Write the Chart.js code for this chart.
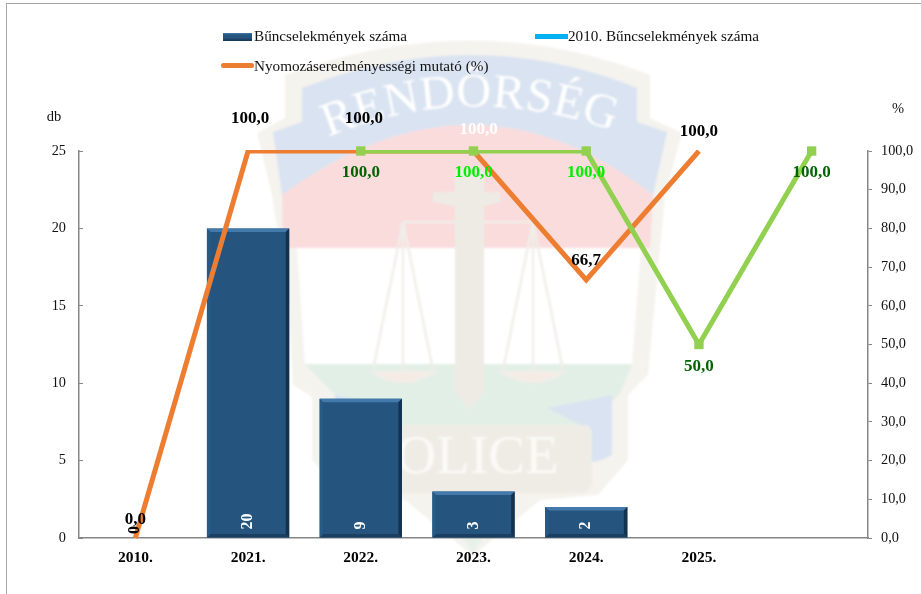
<!DOCTYPE html>
<html lang="hu">
<head>
<meta charset="utf-8">
<title>Bűncselekmények száma</title>
<script src="https://cdn.jsdelivr.net/npm/chart.js@4/dist/chart.umd.min.js"></script>
<style>
  html, body { margin: 0; padding: 0; background: #fff; }
  #wrap { position: relative; width: 921px; height: 594px; overflow: hidden; font-family: "Liberation Serif", serif; }
  #mark, #chart { position: absolute; left: 0; top: 0; }
  .frame-l { position: absolute; left: 6px; top: 3px; width: 1px; height: 591px; background: #a6a6a6; }
  .frame-t { position: absolute; left: 6px; top: 3px; width: 915px; height: 1px; background: #a6a6a6; }
  .leg { position: absolute; font-size: 15.2px; color: #111; white-space: nowrap; line-height: 18px; }
  .key { position: absolute; }
</style>
</head>
<body>
<div id="wrap">
  <svg id="mark" width="921" height="594" viewBox="0 0 921 594">
    <defs>
      <path id="arc" d="M 328 137 Q 473 76 630 137"/>
      <filter id="soft" x="0" y="0" width="100%" height="100%"><feGaussianBlur stdDeviation="1.1"/></filter>
    </defs>
    <g filter="url(#soft)">
      <path d="M 257 133 L 285 118 L 285 75 Q 473 6 650 75 L 650 118 L 682 133 L 665 195 L 655 300 L 648 375 L 628 395 L 628 460 L 598 495 L 540 500 L 473 556 L 405 500 L 345 495 L 312 460 L 312 397 L 293 385 L 288 300 L 272 195 Z" fill="#f5f3ee"/>
      <path d="M 273 132 L 302 122 L 302 88 Q 473 22 637 88 L 637 122 L 667 132 L 653 195 Q 473 55 282 195 Z" fill="#d9e3f1"/>
      <path d="M 282 195 Q 473 55 653 195 L 650 248 L 283 248 Z" fill="#fadcdd"/>
      <path d="M 297 248 L 641 248 L 632 364 L 305 364 Z" fill="#fff"/>
      <path d="M 305 364 L 632 364 L 620 393 L 590 425 L 400 425 L 335 395 Z" fill="#e2efe6"/>
      <path d="M 430 495 L 515 495 L 473 552 Z" fill="#e7f1ea"/>
      <path d="M 547 408 L 612 395 L 612 455 Q 600 462 590 462 L 590 430 Z" fill="#d9e3f1"/>
      <path d="M 400 408 L 335 395 L 335 455 Q 347 462 357 462 L 357 430 Z" fill="#d9e3f1"/>
      <path d="M 350 425 L 585 425 Q 592 425 592 435 L 592 480 Q 592 493 580 493 L 350 493 Z" fill="#efece6"/>
      <g fill="none" stroke="#f0eee8" stroke-width="2.5">
        <path d="M 403 222 L 373 370 M 403 222 L 433 370 M 403 222 L 403 372"/>
        <path d="M 533 222 L 503 370 M 533 222 L 563 370 M 533 222 L 533 372"/>
        <path d="M 403 222 L 533 222"/>
        <path d="M 372 372 Q 403 392 434 372 Z" fill="#f5ebe4"/>
        <path d="M 502 372 Q 533 392 564 372 Z" fill="#f5ebe4"/>
      </g>
      <path d="M 455 192 L 433 192 L 433 202 L 455 206 L 455 392 L 469 410 L 484 392 L 484 206 L 500 202 L 500 192 L 484 192 L 484 170 L 455 170 Z" fill="#eeebe5"/>
      <text font-family="Liberation Serif" font-size="48" fill="#fff" letter-spacing="0.5"><textPath href="#arc" startOffset="0">RENDŐRSÉG</textPath></text>
      <text x="366" y="473" font-family="Liberation Serif" font-size="55" fill="#fbfaf7">POLICE</text>
    </g>
  </svg>
  <canvas id="chart" width="921" height="594"></canvas>
  <div class="frame-l"></div>
  <div class="frame-t"></div>
  <div id="legend"></div>
</div>
<script>
const categories = ["2010.", "2021.", "2022.", "2023.", "2024.", "2025.", ""];
const crimeCounts = [0, 20, 9, 3, 2, 0, null];
const crimeCounts2010 = [null, null, null, null, null, null, null];
const clearanceRate = [0, 100, 100, 100, 66.7, 100, null];
const clearanceRateGreen = [null, null, 100, 100, 100, 50, 100];

const seriesNames = ["Bűncselekmények száma", "2010. Bűncselekmények száma", "Nyomozáseredményességi mutató (%)"];

// label look per point
const countLabelColors = ["#000", "#fff", "#fff", "#fff", "#fff", "#fff", "#fff"];
const rateLabelColors = ["#000", "#000", "#000", "#fff", "#000", "#000", "#000"];
const rateLabelDx = [0, 2, 3, 5, 0, 0, 0];
const rateLabelDy = [-18, -32, -32, -21, -19, -19, 0];
const greenLabelColors = ["", "", "#006400", "#00ee00", "#00ee00", "#006400", "#006400"];

const BLUE = "#25557f";
const ORANGE = "#ed7d31";
const GREEN = "#92d050";
const AXIS = "#868686";
const SERIF = "Liberation Serif";

const fmt = (v) => v.toFixed(1).replace(".", ",");

// bevel on the bars, done right after the bar dataset so lines stay on top
const bevelPlugin = {
  id: "bevel",
  afterDatasetDraw(chart, args) {
    if (args.index !== 0) return;
    const ctx = chart.ctx;
    const b = 3.5;
    args.meta.data.forEach((bar, i) => {
      if (!crimeCounts[i]) return;
      const l = bar.x - bar.width / 2, r = bar.x + bar.width / 2, t = bar.y, f = bar.base;
      const side = (pts, color) => {
        ctx.fillStyle = color;
        ctx.beginPath();
        pts.forEach((p, k) => k ? ctx.lineTo(p[0], p[1]) : ctx.moveTo(p[0], p[1]));
        ctx.closePath();
        ctx.fill();
      };
      side([[l, t], [r, t], [r - b, t + b], [l + b, t + b]], "#447aab");
      side([[r, t], [r, f], [r - b, f - b], [r - b, t + b]], "#14324f");
      side([[l, f], [r, f], [r - b, f - b], [l + b, f - b]], "#1a3f60");
      side([[l, t], [l, f], [l + b, f - b], [l + b, t + b]], "#285a86");
    });
  }
};

const labelPlugin = {
  id: "labels",
  afterDatasetsDraw(chart) {
    const ctx = chart.ctx;
    ctx.save();
    ctx.textBaseline = "middle";
    ctx.textAlign = "center";
    ctx.font = "bold 17px " + SERIF;
    chart.getDatasetMeta(2).data.forEach((pt, i) => {
      if (clearanceRate[i] === null) return;
      ctx.fillStyle = rateLabelColors[i];
      ctx.fillText(fmt(clearanceRate[i]), pt.x + rateLabelDx[i], pt.y + rateLabelDy[i]);
    });
    chart.getDatasetMeta(3).data.forEach((pt, i) => {
      if (clearanceRateGreen[i] === null) return;
      ctx.fillStyle = greenLabelColors[i];
      ctx.fillText(fmt(clearanceRateGreen[i]), pt.x, pt.y + 22);
    });
    // counts are rotated and start at the foot of the bar
    chart.getDatasetMeta(0).data.forEach((bar, i) => {
      if (crimeCounts[i] === null) return;
      ctx.save();
      ctx.translate(bar.x, bar.base - (crimeCounts[i] === 0 ? 4 : 8));
      ctx.rotate(-Math.PI / 2);
      ctx.textAlign = "left";
      ctx.fillStyle = countLabelColors[i];
      ctx.font = "bold 16px " + SERIF;
      ctx.fillText(String(crimeCounts[i]), 0, 0);
      ctx.restore();
    });
    // axis units
    ctx.font = "14.5px " + SERIF;
    ctx.fillStyle = "#111";
    const left = chart.scales.y, right = chart.scales.y2;
    ctx.fillText("db", left.right - 25, left.top - 34);
    ctx.fillText("%", right.left + 30, right.top - 42);
    ctx.restore();
  }
};

new Chart(document.getElementById("chart"), {
  type: "bar",
  data: {
    labels: categories,
    datasets: [
      { label: seriesNames[0], data: crimeCounts, backgroundColor: BLUE, barPercentage: 0.73, categoryPercentage: 1, yAxisID: "y", order: 5 },
      { type: "line", label: seriesNames[1], data: crimeCounts2010, borderColor: "#00b0f0", borderWidth: 5, pointRadius: 0, yAxisID: "y", order: 4 },
      { type: "line", label: seriesNames[2], data: clearanceRate, borderColor: ORANGE, borderWidth: 5, pointRadius: 0, tension: 0, borderJoinStyle: "miter", yAxisID: "y2", clip: 1, order: 3 },
      { type: "line", label: "", data: clearanceRateGreen, borderColor: GREEN, borderWidth: 5, pointRadius: 0, tension: 0, borderJoinStyle: "miter", yAxisID: "y2", clip: 1, order: 2 },
      { type: "line", label: "", data: clearanceRateGreen, showLine: false, backgroundColor: GREEN, pointBackgroundColor: GREEN, pointBorderWidth: 0, pointStyle: "rect", pointRadius: 6.6, yAxisID: "y2", clip: false, order: 1 }
    ]
  },
  options: {
    responsive: false,
    animation: false,
    layout: { padding: { top: 151, bottom: 26, left: 0, right: 0 } },
    plugins: { legend: { display: false }, tooltip: { enabled: false } },
    scales: {
      x: {
        offset: true,
        grid: { display: false, drawTicks: false },
        border: { color: AXIS, width: 1.5 },
        ticks: { color: "#000", font: { family: SERIF, size: 15.5, weight: "bold" }, padding: 11, maxRotation: 0 },
        afterFit(s) { s.height = 30; }
      },
      y: {
        min: 0, max: 25,
        grid: { drawOnChartArea: false, tickLength: -4, tickColor: AXIS, tickWidth: 1 },
        border: { color: AXIS, width: 1.5 },
        ticks: { stepSize: 5, color: "#111", font: { family: SERIF, size: 14.3 }, padding: 17 },
        afterFit(s) { s.width = 79; }
      },
      y2: {
        position: "right",
        min: 0, max: 100,
        grid: { drawOnChartArea: false, tickLength: 4, tickColor: AXIS, tickWidth: 1 },
        border: { color: AXIS, width: 1.5 },
        ticks: { stepSize: 10, color: "#111", font: { family: SERIF, size: 14.3 }, padding: 9, callback: (v) => fmt(v) },
        afterFit(s) { s.width = 53; }
      }
    }
  },
  plugins: [bevelPlugin, labelPlugin]
});

// legend sits in two rows and two columns, the built in one cannot do that
const legendBox = document.getElementById("legend");
const addLegend = (name, textX, rowY, keyCss) => {
  const key = document.createElement("div");
  key.className = "key";
  key.style.cssText = keyCss;
  legendBox.appendChild(key);
  const txt = document.createElement("div");
  txt.className = "leg";
  txt.textContent = name;
  txt.style.left = textX + "px";
  txt.style.top = (rowY - 9) + "px";
  legendBox.appendChild(txt);
};
addLegend(seriesNames[0], 254, 36, "left:223px;top:33px;width:29px;height:8px;background:linear-gradient(#447aab,#25557f 25%,#25557f 60%,#14324f);");
addLegend(seriesNames[1], 568, 36, "left:535px;top:34px;width:33px;height:5px;background:#00b0f0;");
addLegend(seriesNames[2], 254, 66, "left:221px;top:63px;width:33px;height:5px;border-radius:3px;background:" + ORANGE + ";");
</script>
</body>
</html>
